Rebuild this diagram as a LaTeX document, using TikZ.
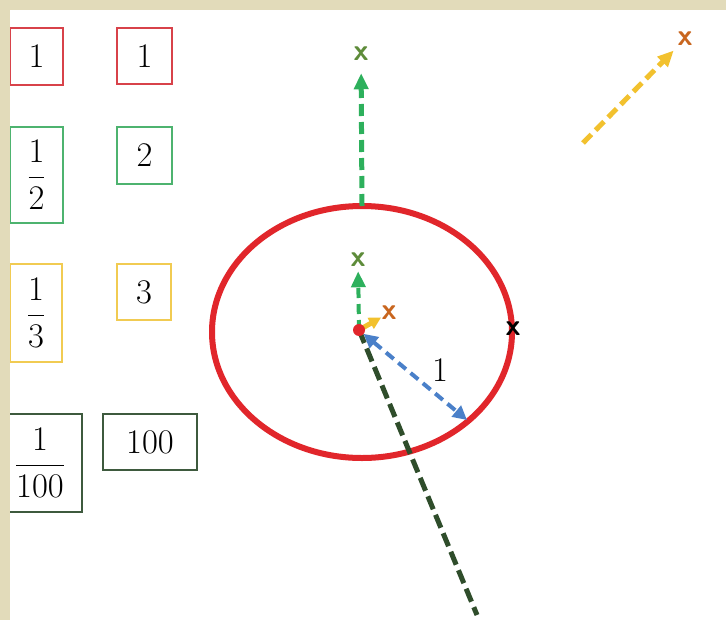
\documentclass[tikz,border=0pt]{standalone}
\usepackage{amsmath}
\usetikzlibrary{arrows.meta}

\definecolor{bgbeige}{HTML}{E2DBBA}
\definecolor{boxred}{HTML}{D8424A}
\definecolor{boxgreen}{HTML}{4DB36F}
\definecolor{boxyellow}{HTML}{F1CB52}
\definecolor{boxdark}{HTML}{3E5A3E}
\definecolor{ringred}{HTML}{E1262B}
\definecolor{arrowgreen}{HTML}{2DB05C}
\definecolor{markgreen}{HTML}{5E8C3A}
\definecolor{arrowyellow}{HTML}{F2C12E}
\definecolor{markorange}{HTML}{C9661F}
\definecolor{arrowblue}{HTML}{4A80C9}
\definecolor{linedark}{HTML}{2F4D2B}

\tikzset{
  numbox/.style={draw=#1, line width=1pt, fill=white, inner sep=0pt,
    font=\fontsize{19}{22}\selectfont},
  xmark/.style={text=#1, inner sep=0pt, font=\fontsize{15}{15}\selectfont\sffamily\bfseries},
  dasharrow/.style={draw=#1, line width=2.5pt, dash pattern=on 6pt off 3pt,
    -{Triangle[length=8pt,width=7pt]}},
}

\begin{document}
\begin{tikzpicture}[x=0.5pt,y=-0.5pt]
  \useasboundingbox (0,0) rectangle (726,620);
  \fill[white] (0,0) rectangle (726,620);

  % boxes: left column fractions, right column numbers
  \node[numbox=boxred, minimum width=26.5pt, minimum height=28.5pt] (r1) at (36.5,56.5) {\(1\)};
  \node[numbox=boxred, minimum width=27.5pt, minimum height=28pt] (r2) at (144.5,56) {\(1\)};
  \node[numbox=boxgreen, minimum width=26.5pt, minimum height=48pt] (g1) at (36.5,175) {\(\dfrac{1}{2}\)};
  \node[numbox=boxgreen, minimum width=27.5pt, minimum height=28.5pt] (g2) at (144.5,155.5) {\(2\)};
  \node[numbox=boxyellow, minimum width=26pt, minimum height=49pt] (y1) at (36,313) {\(\dfrac{1}{3}\)};
  \node[numbox=boxyellow, minimum width=27pt, minimum height=28pt] (y2) at (144,292) {\(3\)};
  \node[numbox=boxdark, minimum width=42pt, minimum height=49pt] (d1) at (40,463) {\(\dfrac{1}{100}\)};
  \node[numbox=boxdark, minimum width=47pt, minimum height=28pt] (d2) at (150,442) {\(100\)};

  % the ring
  \draw[ringred, line width=3pt] (362,332) ellipse [x radius=150, y radius=126];
  \coordinate (o) at (359,330);
  \coordinate (ringtop) at (362,206);
  \coordinate (bluetip) at (467,420);
  \coordinate (darkend) at (477,615);
  \coordinate (farstart) at (583,143);

  % marks
  \node[xmark=markgreen] (xtop) at (361,54) {x};
  \node[xmark=markgreen] (xsmall) at (358,260) {x};
  \node[xmark=markorange] (xnear) at (389,313) {x};
  \node[xmark=markorange] (xfar) at (685,39) {x};
  \node[xmark=black] (xring) at (513,329) {x};

  % arrows
  \draw[dasharrow=arrowgreen] (ringtop) -- (xtop) [shorten >=6pt];
  \draw[dasharrow=arrowgreen, line width=2pt, dash pattern=on 5pt off 3pt] (o) -- (xsmall) [shorten >=2pt];
  \draw[draw=linedark, line width=2.5pt, dash pattern=on 7pt off 3pt] (o) -- (darkend);
  \draw[draw=arrowblue, line width=2pt, dash pattern=on 5pt off 3pt,
    {Triangle[length=7pt,width=7pt]}-{Triangle[length=7pt,width=7pt]}] (o) -- (bluetip) [shorten <=3pt];
  \node[font=\fontsize{19}{22}\selectfont] (radlabel) at (440,370) {\(1\)};
  \draw[draw=arrowyellow, line width=2.5pt, -{Triangle[length=6pt,width=6pt]}] (o) -- (xnear);
  \draw[dasharrow=arrowyellow] (farstart) -- (xfar) [shorten >=3pt];
  \fill[ringred] (o) circle[radius=6];

  % frame
  \fill[bgbeige] (0,0) rectangle (726,10);
  \fill[bgbeige] (0,0) rectangle (10,620);
\end{tikzpicture}
\end{document}
